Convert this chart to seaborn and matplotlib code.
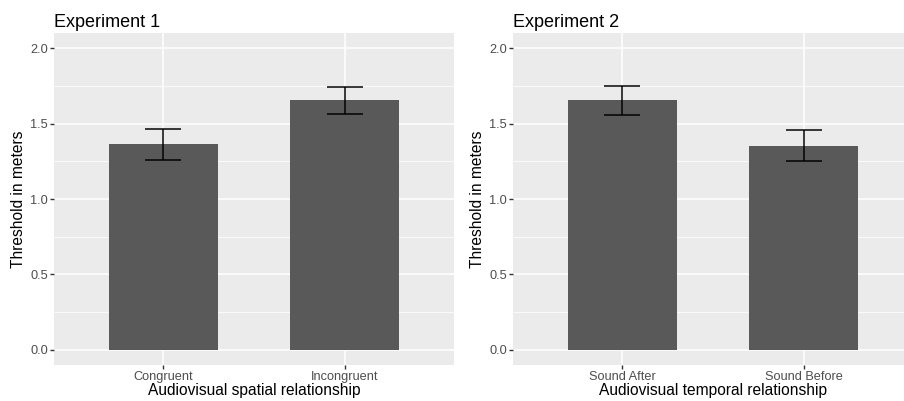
import numpy as np
import pandas as pd
import matplotlib
matplotlib.use("Agg")
import matplotlib.pyplot as plt
import seaborn as sns
from matplotlib.ticker import FormatStrFormatter, MultipleLocator

# Experiment 1 : spatial relationship
exp1_cond = ["Congruent", "Incongruent"]
exp1_mean = [1.365, 1.657]
exp1_low = [1.259, 1.566]
exp1_high = [1.467, 1.745]

# Experiment 2 : temporal relationship
exp2_cond = ["Sound After", "Sound Before"]
exp2_mean = [1.657, 1.352]
exp2_low = [1.559, 1.250]
exp2_high = [1.752, 1.460]

sns.set_style("darkgrid", {"axes.facecolor": "#EBEBEB", "grid.color": "white"})
plt.rcParams["font.family"] = ["Liberation Sans", "DejaVu Sans"]

W, H, DPI = 904, 401, 72
fig = plt.figure(figsize=(W / DPI, H / DPI), dpi=DPI)

ax1 = fig.add_axes([54 / W, 36 / H, 400 / W, 332 / H])
ax2 = fig.add_axes([513 / W, 36 / H, 400 / W, 332 / H])


def panel(ax, cond, mean, low, high, title, xlabel):
    df = pd.DataFrame({"cond": cond, "mean": mean})
    sns.barplot(data=df, x="cond", y="mean", color="#595959", saturation=1,
                width=0.6, errorbar=None, linewidth=0, ax=ax)
    pos = np.arange(len(cond))
    m = np.array(mean)
    yerr = [m - np.array(low), np.array(high) - m]
    ax.errorbar(pos, m, yerr=yerr, fmt="none", ecolor="black",
                elinewidth=1.5, capsize=18, capthick=1.5, zorder=5)
    ax.set_xlim(-0.6, 1.6)
    ax.set_ylim(-0.1, 2.1)
    ax.yaxis.set_major_locator(MultipleLocator(0.5))
    ax.yaxis.set_minor_locator(MultipleLocator(0.25))
    ax.yaxis.set_major_formatter(FormatStrFormatter("%.1f"))
    ax.grid(True, which="major", color="white", linewidth=1.5)
    ax.grid(True, which="minor", axis="y", color="white", linewidth=0.8)
    ax.set_axisbelow(True)
    for s in ax.spines.values():
        s.set_visible(False)
    ax.tick_params(axis="both", which="major", length=3.7, width=1.4,
                   color="#333333", labelcolor="#4D4D4D", labelsize=12.8,
                   pad=2.5, direction="out", left=True, bottom=True)
    ax.tick_params(axis="y", which="minor", length=0)
    ax.set_title(title, loc="left", fontsize=18, color="black", pad=6)
    ax.set_xlabel(xlabel, fontsize=15.5, color="black", labelpad=0)
    ax.set_ylabel("Threshold in meters", fontsize=15.5, color="black", labelpad=4)


panel(ax1, exp1_cond, exp1_mean, exp1_low, exp1_high,
      "Experiment 1", "Audiovisual spatial relationship")
panel(ax2, exp2_cond, exp2_mean, exp2_low, exp2_high,
      "Experiment 2", "Audiovisual temporal relationship")

fig.savefig("out.png", dpi=DPI, facecolor="white")
